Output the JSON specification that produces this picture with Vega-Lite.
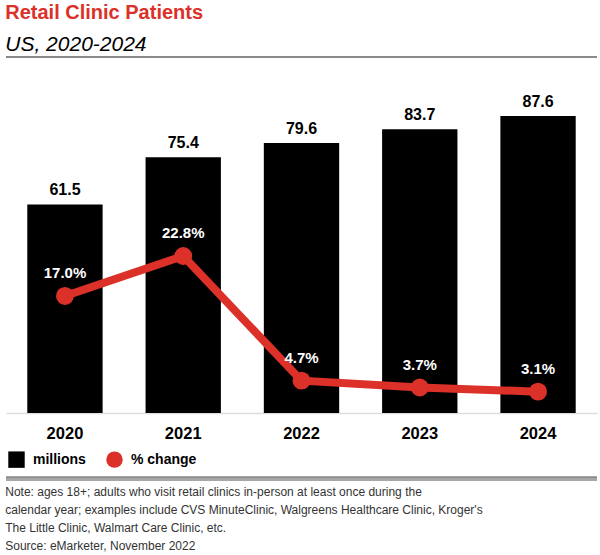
{
  "$schema": "https://vega.github.io/schema/vega-lite/v6.json",
  "padding": {"left": 5, "right": 4, "top": 3, "bottom": 0},
  "background": "white",
  "config": {
    "view": {"stroke": null},
    "font": "Liberation Sans"
  },
  "title": {
    "text": "Retail Clinic Patients",
    "subtitle": "US, 2020-2024",
    "anchor": "start",
    "font": "Liberation Sans",
    "fontSize": 20,
    "fontWeight": "bold",
    "color": "#dc3129",
    "subtitleFont": "Liberation Sans",
    "subtitleFontSize": 21,
    "subtitleFontStyle": "italic",
    "subtitleFontWeight": "normal",
    "subtitleColor": "#000000",
    "subtitlePadding": 11,
    "offset": 1
  },
  "spacing": 0,
  "vconcat": [
    {
      "width": 591,
      "height": 356,
      "data": {
        "values": [
          {"year": "2020", "millions": 61.5, "pct": 0.170},
          {"year": "2021", "millions": 75.4, "pct": 0.228},
          {"year": "2022", "millions": 79.6, "pct": 0.047},
          {"year": "2023", "millions": 83.7, "pct": 0.037},
          {"year": "2024", "millions": 87.6, "pct": 0.031}
        ]
      },
      "encoding": {
        "x": {
          "field": "year",
          "type": "nominal",
          "scale": {"paddingInner": 0.363, "paddingOuter": 0.18},
          "axis": {
            "title": null,
            "labelAngle": 0,
            "labelFont": "Liberation Sans",
            "labelFontSize": 16.5,
            "labelFontWeight": "bold",
            "labelColor": "#000000",
            "labelPadding": 12,
            "ticks": false,
            "domainColor": "#dddddd",
            "domainWidth": 1.5,
            "grid": false
          }
        }
      },
      "layer": [
        {
          "encoding": {
            "y": {"field": "millions", "type": "quantitative", "scale": {"domain": [0, 105]}, "axis": null}
          },
          "layer": [
            {
              "mark": {"type": "bar"},
              "encoding": {
                "color": {
                  "datum": "millions",
                  "type": "nominal",
                  "scale": {"domain": ["millions", "% change"], "range": ["#000000", "#dc3129"]},
                  "legend": {
                    "title": null,
                    "orient": "none",
                    "legendX": 2,
                    "legendY": 394,
                    "direction": "horizontal",
                    "padding": 0,
                    "symbolSize": 270,
                    "symbolStrokeWidth": 0,
                    "labelFont": "Liberation Sans",
                    "labelFontSize": 14,
                    "labelFontWeight": "bold",
                    "labelColor": "#000000",
                    "labelOffset": 8,
                    "columnPadding": 20,
                    "encode": {
                      "symbols": {
                        "update": {
                          "shape": {"signal": "datum.value === 'millions' ? 'square' : 'circle'"},
                          "fill": {"scale": "color", "field": "value"},
                          "opacity": {"value": 1},
                          "strokeWidth": {"value": 0}
                        }
                      }
                    }
                  }
                }
              }
            },
            {
              "mark": {"type": "text", "dy": -9, "baseline": "alphabetic", "font": "Liberation Sans", "fontSize": 16, "fontWeight": "bold", "color": "#000000"},
              "encoding": {"text": {"field": "millions", "type": "quantitative", "format": ".1f"}}
            },
            {
              "mark": {"type": "rule", "color": "#8a8a8a", "strokeWidth": 1.5},
              "encoding": {"y": {"datum": 105, "type": "quantitative"}, "x": null}
            },
            {
              "mark": {"type": "rule", "color": "#8a8a8a", "strokeWidth": 1.5},
              "encoding": {"y": {"datum": -19, "type": "quantitative"}, "x": null}
            }
          ]
        },
        {
          "encoding": {
            "y": {"field": "pct", "type": "quantitative", "scale": {"domain": [0, 0.517]}, "axis": null}
          },
          "layer": [
            {
              "mark": {"type": "line", "color": "#dc3129", "strokeWidth": 8}
            },
            {
              "mark": {"type": "point", "filled": true, "size": 320, "opacity": 1},
              "encoding": {"color": {"datum": "% change", "type": "nominal"}}
            },
            {
              "mark": {"type": "text", "dy": -18, "baseline": "alphabetic", "font": "Liberation Sans", "fontSize": 15, "fontWeight": "bold", "color": "#ffffff"},
              "encoding": {"text": {"field": "pct", "type": "quantitative", "format": ".1%"}}
            }
          ]
        }
      ],
      "resolve": {"scale": {"y": "independent"}}
    },
    {
      "width": 591,
      "height": 2,
      "data": {"values": [{"x0": 0, "x1": 1, "v": 1}]},
      "title": {
        "text": [
          "Note: ages 18+; adults who visit retail clinics in-person at least once during the",
          "calendar year; examples include CVS MinuteClinic, Walgreens Healthcare Clinic, Kroger's",
          "The Little Clinic, Walmart Care Clinic, etc.",
          "Source: eMarketer, November 2022"
        ],
        "orient": "bottom",
        "anchor": "start",
        "font": "Liberation Sans",
        "fontSize": 12,
        "fontWeight": "normal",
        "color": "#333333",
        "lineHeight": 18,
        "offset": 4.5
      },
      "mark": {"type": "rule", "color": "#8a8a8a", "strokeWidth": 1.5},
      "encoding": {
        "x": {"field": "x0", "type": "quantitative", "scale": {"domain": [0, 1]}, "axis": null},
        "x2": {"field": "x1"},
        "y": {"field": "v", "type": "quantitative", "scale": {"domain": [0, 1]}, "axis": null}
      }
    }
  ]
}
